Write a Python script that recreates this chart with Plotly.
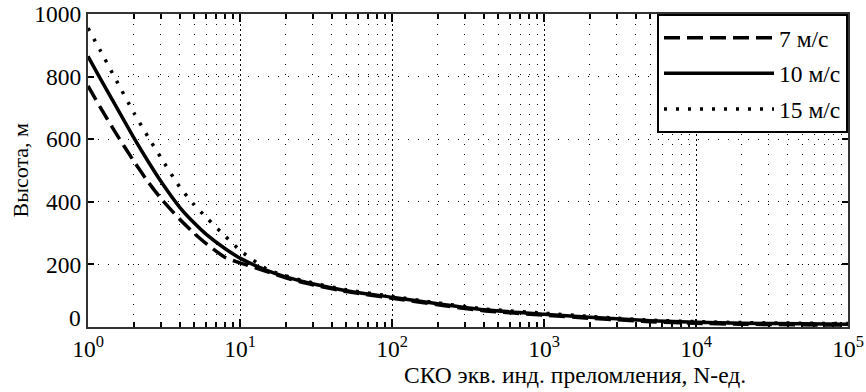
import plotly.graph_objects as go

# ---- data ----
x_vals = [1, 1.2, 1.5, 2, 2.5, 3, 4, 5, 6, 8, 10, 15, 20, 30, 50, 100, 200, 400,
          1000, 2000, 3000, 5000, 10000, 20000, 50000, 100000]
h_7 = [770, 703, 625, 530, 462, 412, 345, 299, 266, 222, 205, 177, 157, 135, 113, 92, 71, 52,
       38, 28, 23, 17, 12, 9, 7, 6]
h_10 = [865, 795, 712, 605, 527, 467, 383, 332, 296, 250, 220, 181, 160, 138, 116, 95, 74, 55,
        41, 31, 26, 20, 15, 12, 10, 9]
h_15 = [955, 885, 797, 685, 605, 543, 448, 390, 350, 290, 245, 185, 163, 141, 119, 98, 77, 58,
        44, 34, 28, 22, 17, 14, 12, 11]
series_names = ["7 м/с", "10 м/с", "15 м/с"]

x_tick_vals = [1, 10, 100, 1000, 10000, 100000]
x_tick_text = ["10<sup>0</sup>", "10<sup>1</sup>", "10<sup>2</sup>",
               "10<sup>3</sup>", "10<sup>4</sup>", "10<sup>5</sup>"]
y_tick_vals = [0, 200, 400, 600, 800, 1000]
y_tick_text = ["0", "200", "400", "600", "800", "1000"]

x_title = "СКО экв. инд. преломления, N-ед."
y_title = "Высота, м"

FONT = "Liberation Serif, Times New Roman, serif"
FS = 23.5

minor_vals = [m * 10 ** d for d in range(5) for m in range(2, 10)]

fig = go.Figure()
styles = [dict(dash="16px,7px", width=3.5),
          dict(dash="solid", width=3.5),
          dict(dash="3px,9px", width=3.5)]
for name, ys, st, grp in zip(series_names, [h_7, h_10, h_15], styles, ["a", "b", "c"]):
    fig.add_trace(go.Scatter(
        x=x_vals, y=ys, name=name, mode="lines", legendgroup=grp,
        line=dict(color="black", width=st["width"], dash=st["dash"], shape="spline", smoothing=0.6),
    ))

# the bottom y label ("0") is raised a little in the reference, drawn as an annotation
annotations = [
    dict(text=x_title, xref="paper", yref="paper", x=(402 - 88) / 760, y=-0.153,
         xanchor="left", yanchor="middle", showarrow=False,
         font=dict(family=FONT, size=FS, color="black")),
    dict(text=y_title, xref="paper", yref="paper", x=(20 - 88) / 760, y=0.5,
         xanchor="center", yanchor="middle", textangle=-90, showarrow=False,
         font=dict(family=FONT, size=22, color="black")),
    dict(text=y_tick_text[0], xref="paper", yref="y", x=0, y=y_tick_vals[0],
         xanchor="right", yanchor="middle", xshift=-5, yshift=9, showarrow=False,
         font=dict(family=FONT, size=FS, color="black")),
]

fig.update_layout(
    width=866, height=392,
    margin=dict(l=88, r=18, t=14, b=65, autoexpand=False),
    paper_bgcolor="white", plot_bgcolor="white",
    font=dict(family=FONT, size=FS, color="black"),
    showlegend=True,
    legend=dict(
        x=1, xanchor="right", y=1, yanchor="top",
        bgcolor="white", bordercolor="black", borderwidth=2,
        font=dict(family=FONT, size=FS, color="black"),
        itemwidth=110, traceorder="grouped", tracegroupgap=2,
    ),
    annotations=annotations,
)

fig.update_xaxes(
    type="log", range=[0, 5], automargin=False,
    tickmode="array", tickvals=x_tick_vals, ticktext=x_tick_text,
    ticks="inside", ticklen=8, tickwidth=1.5, tickcolor="black",
    showline=True, linecolor="#333", linewidth=2, mirror="ticks",
    showgrid=True, gridcolor="black", gridwidth=1, griddash="2px,3px",
    zeroline=False,
    tickfont=dict(family=FONT, size=FS, color="black"),
    minor=dict(tickmode="array", tickvals=minor_vals, ticks="inside", ticklen=5,
               tickwidth=1.5, tickcolor="black",
               showgrid=True, gridcolor="black", gridwidth=1, griddash="1px,9px"),
)
fig.update_yaxes(
    range=[0, 1000], automargin=False,
    tickmode="array", tickvals=y_tick_vals, ticktext=[""] + y_tick_text[1:],
    ticks="inside", ticklen=6, tickwidth=1.5, tickcolor="black",
    showline=True, linecolor="#333", linewidth=2, mirror="ticks",
    showgrid=True, gridcolor="black", gridwidth=1, griddash="1px,9px",
    zeroline=False,
    tickfont=dict(family=FONT, size=FS, color="black"),
)

fig.write_html("out.html", config={"displayModeBar": False},
               post_script="document.body.style.margin='0px';")
